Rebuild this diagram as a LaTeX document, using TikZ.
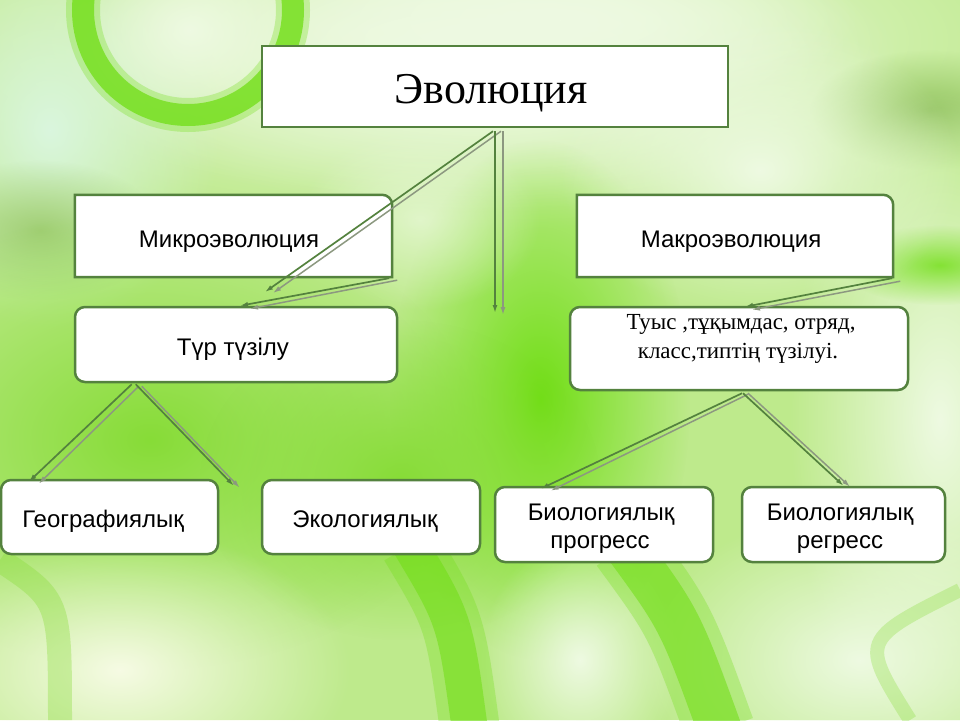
\documentclass[tikz,border=0pt]{standalone}
\usepackage{fontspec}
\setmainfont{Liberation Serif}
\setsansfont{Liberation Sans}
\usetikzlibrary{arrows.meta,fadings}
\definecolor{edgeA}{RGB}{84,130,62}
\definecolor{edgeB}{RGB}{140,152,128}
\definecolor{bgbase}{RGB}{190,234,140}
\definecolor{limeA}{RGB}{135,220,55}
\definecolor{limeB}{RGB}{112,222,20}
\definecolor{olive}{RGB}{150,198,100}
\definecolor{mint}{RGB}{218,246,222}
\definecolor{paleA}{RGB}{238,250,226}
\definecolor{cream}{RGB}{246,251,228}
\tikzfading[name=softblob, inner color=transparent!0, outer color=transparent!100]
\begin{document}
\begin{tikzpicture}[x=1pt,y=-1pt,
  box/.style={draw=edgeA, line width=2.5pt, fill=white, rounded corners=10pt, inner sep=0pt},
  sqbox/.style={draw=edgeA, line width=2.5pt, fill=white, inner sep=0pt},
  holder/.style={draw=none, inner sep=0pt},
  boxline/.style={draw=edgeA, line width=2.5pt, fill=white},
  lbl/.style={font=\sffamily\fontsize{24}{28}\selectfont, anchor=base, inner sep=0pt},
  ser/.style={font=\rmfamily\fontsize{23}{27}\selectfont, anchor=base, inner sep=0pt},
  cA/.style={draw=edgeA, line width=1.7pt, -{Latex[length=8pt,width=5pt]}},
  cB/.style={draw=edgeB, line width=1.5pt, -{Latex[length=8pt,width=5pt]}},
  blob/.style={path fading=softblob}]
\useasboundingbox (0,0) rectangle (960,720);
% ---------- background ----------
\fill[bgbase] (0,0) rectangle (960,720);
\fill[paleA, blob] (480,40) ellipse[x radius=620pt, y radius=190pt];
\fill[paleA, blob] (480,60) ellipse[x radius=420pt, y radius=150pt];
\fill[paleA, blob] (560,20) ellipse[x radius=300pt, y radius=90pt];
\fill[mint, blob] (50,130) ellipse[x radius=170pt, y radius=200pt];
\fill[paleA, blob] (190,30) ellipse[x radius=110pt, y radius=90pt];
\fill[olive, blob] (930,110) ellipse[x radius=120pt, y radius=60pt];
\fill[olive, blob, opacity=0.8] (40,230) ellipse[x radius=120pt, y radius=70pt];
\fill[limeA, blob] (150,440) ellipse[x radius=330pt, y radius=230pt];
\fill[limeB, blob] (540,400) ellipse[x radius=150pt, y radius=260pt];
\fill[limeA, blob] (400,480) ellipse[x radius=200pt, y radius=160pt];
\fill[paleA, blob] (940,420) ellipse[x radius=150pt, y radius=330pt];
\fill[limeB, blob, opacity=0.8] (940,265) ellipse[x radius=100pt, y radius=40pt];
\fill[paleA, blob] (760,170) ellipse[x radius=200pt, y radius=150pt];
\fill[paleA, blob, opacity=0.7] (420,220) ellipse[x radius=120pt, y radius=90pt];
\fill[cream, blob] (120,670) ellipse[x radius=230pt, y radius=140pt];
\fill[paleA, blob] (860,660) ellipse[x radius=220pt, y radius=150pt];
\fill[paleA, blob] (580,660) ellipse[x radius=100pt, y radius=120pt];
% rings and bands
\draw[limeB, line width=34pt, opacity=0.3] (188,10) circle[radius=105pt];
\draw[limeB, line width=22pt, opacity=0.75] (188,10) circle[radius=105pt];
\draw[limeB, line width=60pt, opacity=0.3] (410,545) .. controls (455,620) .. (470,730);
\draw[limeB, line width=36pt, opacity=0.55] (410,545) .. controls (455,620) .. (470,730);
\draw[limeB, line width=70pt, opacity=0.3] (625,545) .. controls (680,620) .. (720,730);
\draw[limeB, line width=44pt, opacity=0.55] (625,545) .. controls (680,620) .. (720,730);
\draw[limeA, line width=24pt, opacity=0.35] (0,560) .. controls (60,600) .. (60,720);
\draw[limeA, line width=14pt, opacity=0.3] (910,720) .. controls (860,640) .. (960,590);
% ---------- boxes ----------
\node[sqbox, minimum width=466pt, minimum height=81pt] (evo) at (495,86.5) {};
\node[holder, minimum width=317pt, minimum height=82pt] (micro) at (233.5,236) {};
\node[holder, minimum width=316pt, minimum height=82pt] (macro) at (735,236) {};
\path[boxline] (micro.north) [rounded corners=10pt] -- (micro.north east) -- (micro.east) [sharp corners] -- (micro.south east) -- (micro.south west) -- (micro.north west) -- cycle;
\path[boxline] (macro.north) [rounded corners=10pt] -- (macro.north east) -- (macro.east) [sharp corners] -- (macro.south east) -- (macro.south west) -- (macro.north west) -- cycle;
\node[box, minimum width=322pt, minimum height=75pt] (tur) at (236,344.5) {};
\node[box, minimum width=338pt, minimum height=83pt] (tuys) at (739,348.5) {};
\node[box, minimum width=217pt, minimum height=74pt] (geo) at (109.5,517) {};
\node[box, minimum width=218pt, minimum height=74pt] (eco) at (371,517) {};
\node[box, minimum width=218pt, minimum height=75pt] (bprog) at (604,524.5) {};
\node[box, minimum width=203pt, minimum height=75pt] (breg) at (843.5,524.5) {};
% ---------- texts ----------
\node[anchor=base, inner sep=0pt, font=\rmfamily\fontsize{44}{50}\selectfont] (tevo) at (491,103) {Эволюция};
\node[lbl] (tmicro) at (229,247) {Микроэволюция};
\node[lbl] (tmacro) at (731,247) {Макроэволюция};
\node[lbl] (ttur) at (233,355) {Түр түзілу};
\node[ser] (ttuys1) at (741,329) {Туыс ,тұқымдас, отряд,};
\node[ser] (ttuys2) at (738,358) {класс,типтің түзілуі.};
\node[lbl] (tgeo) at (103,527) {Географиялық};
\node[lbl] (teco) at (365,527) {Экологиялық};
\node[lbl] (tbp1) at (601,520) {Биологиялық};
\node[lbl] (tbp2) at (600,548) {прогресс};
\node[lbl] (tbr1) at (840,520) {Биологиялық};
\node[lbl] (tbr2) at (840,548) {регресс};
% ---------- free ends ----------
\coordinate (d1a) at (265,292);
\coordinate (d1b) at (273,293);
\coordinate (v1a) at (495,313);
\coordinate (v1b) at (503,315);
% ---------- connectors ----------
\draw[cB] ([shift={(6,3)}]evo.south) -- (d1b);
\draw[cA] ([shift={(-2,3)}]evo.south) -- (d1a);
\draw[cB] ([shift={(8,3)}]evo.south) -- (v1b);
\draw[cA] ([shift={(0,3)}]evo.south) -- (v1a);
\draw[cB] ([shift={(5,3)}]micro.south east) -- ([shift={(14,3)}]tur.north);
\draw[cA] ([shift={(-3,1)}]micro.south east) -- ([shift={(4,0)}]tur.north);
\draw[cB] ([shift={(7,4)}]macro.south east) -- ([shift={(13,4)}]tuys.north);
\draw[cA] ([shift={(-1,1)}]macro.south east) -- ([shift={(6,1)}]tuys.north);
\draw[cB] ([shift={(65,3)}]tur.south west) -- ([shift={(39,5)}]geo.north west);
\draw[cA] ([shift={(58,1)}]tur.south west) -- ([shift={(29,3)}]geo.north west);
\draw[cB] ([shift={(68,3)}]tur.south west) -- ([shift={(-21,9)}]eco.north west);
\draw[cA] ([shift={(62,1)}]tur.south west) -- ([shift={(-27,7)}]eco.north west);
\draw[cB] ([shift={(9,3)}]tuys.south) -- ([shift={(57,5)}]bprog.north west);
\draw[cA] ([shift={(3,2)}]tuys.south) -- ([shift={(47,3)}]bprog.north west);
\draw[cB] ([shift={(9,2)}]tuys.south) -- ([shift={(6.5,1)}]breg.north);
\draw[cA] ([shift={(4,2)}]tuys.south) -- ([shift={(0,0)}]breg.north);
\end{tikzpicture}
\end{document}
